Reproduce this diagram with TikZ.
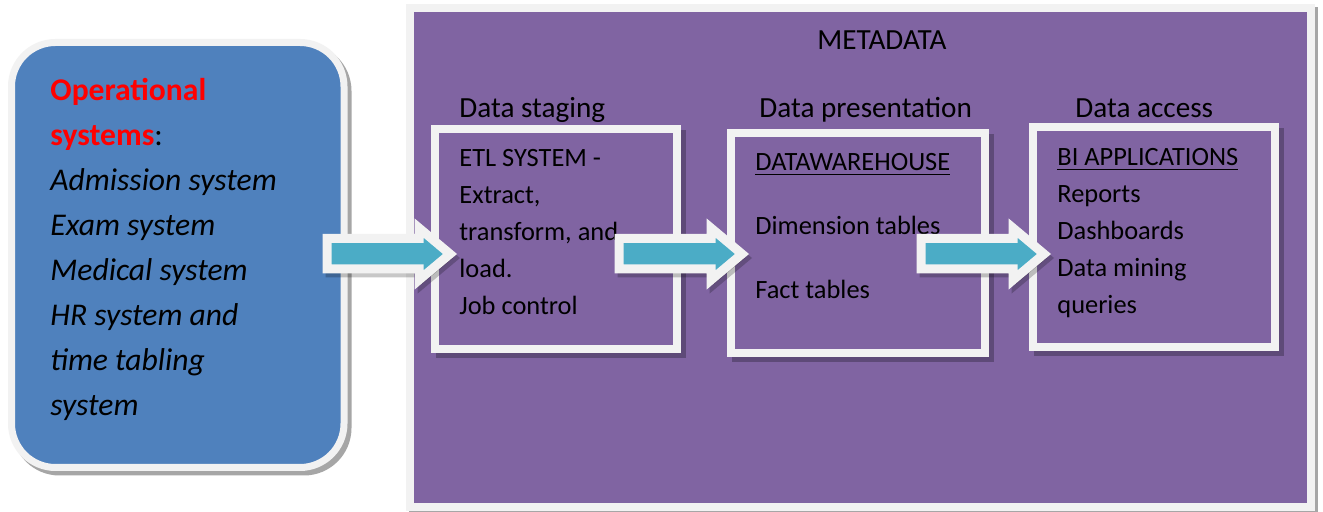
\documentclass[tikz,border=0pt]{standalone}
\usepackage{fontspec}
\setmainfont{Carlito}
\definecolor{mpurple}{HTML}{8064A2}
\definecolor{mblue}{HTML}{4F81BD}
\definecolor{mteal}{HTML}{4BACC6}
\definecolor{mborder}{HTML}{F2F2F2}
\definecolor{mshadow}{HTML}{5E4A78}
\definecolor{mgray}{HTML}{A6A6A6}
\tikzset{
  container/.style={draw=mborder, line width=4pt, fill=mpurple, inner sep=0pt,
    minimum width=450.75pt, minimum height=249.75pt},
  opsbox/.style={draw=mborder, line width=3.5pt, fill=mblue, inner sep=0pt,
    rounded corners=22pt, minimum width=166.25pt, minimum height=212.5pt},
  stagebox/.style={draw=mborder, line width=4pt, fill=mpurple, inner sep=0pt},
  stageshadow/.style={draw=mshadow, fill=mshadow, line width=4pt, inner sep=0pt},
  headtxt/.style={anchor=base west, inner sep=0pt, font=\fontsize{14.6}{17}\selectfont},
  boxtxt/.style={anchor=base west, inner sep=0pt, font=\fontsize{13.2}{16}\selectfont},
  opstxt/.style={anchor=base west, inner sep=0pt, font=\fontsize{15.8}{19}\selectfont},
  blockarr/.style={draw=mborder, fill=mteal, line width=4.5pt, line join=miter},
  arrshadow/.style={draw=black, fill=black, opacity=0.22, line width=4.5pt, line join=miter},
}
\begin{document}
\begin{tikzpicture}[x=0.5pt,y=-0.5pt]
\useasboundingbox (0,0) rectangle (1323,512);
\fill[white] (0,0) rectangle (1323,512);

% metadata container
\node[container, draw=mgray, fill=mgray] (metash) at (863.25,260.75) {};
\node[container] (meta) at (860.25,257.75) {};

% operational systems box
\node[opsbox, draw=mgray, fill=mgray] (opssh) at (181.75,259.5) {};
\node[opsbox] (ops) at (177.75,255) {};

% stage boxes
\node[stageshadow, minimum width=121pt, minimum height=110pt] (b1sh) at (561,244) {};
\node[stageshadow, minimum width=127pt, minimum height=110pt] (b2sh) at (863,248) {};
\node[stageshadow, minimum width=121pt, minimum height=109.75pt] (b3sh) at (1159,242.25) {};
\node[stagebox, minimum width=121pt, minimum height=110pt] (b1) at (556,239) {};
\node[stagebox, minimum width=127pt, minimum height=110pt] (b2) at (858,243) {};
\node[stagebox, minimum width=121pt, minimum height=109.75pt] (b3) at (1154,237.25) {};

% headings
\node[headtxt] (tmeta) at (817,50) {METADATA};
\node[headtxt] (h1) at (459,118) {Data staging};
\node[headtxt] (h2) at (759,118) {Data presentation};
\node[headtxt] (h3) at (1075,118) {Data access};

% box 1 text
\foreach \t [count=\i] in {ETL SYSTEM -, {Extract,}, {transform, and}, load., Job control}
  \node[boxtxt] (s\i) at (459,{167+37*(\i-1)}) {\t};

% box 2 text
\node[boxtxt] (p1) at (755,171) {\underline{DATAWAREHOUSE}};
\node[boxtxt] (p2) at (755,235) {Dimension tables};
\node[boxtxt] (p3) at (755,299) {Fact tables};

% box 3 text
\node[boxtxt] (q1) at (1057,166) {\underline{BI APPLICATIONS}};
\foreach \t [count=\i from 2] in {Reports, Dashboards, Data mining, queries}
  \node[boxtxt] (q\i) at (1057,{166+37*(\i-1)}) {\t};

% operational text
\node[opstxt] (o1) at (50,101) {\textcolor{red}{\bfseries Operational}};
\node[opstxt] (o2) at (50,146) {\textcolor{red}{\bfseries systems}:};
\foreach \t [count=\i from 3] in {Admission system, Exam system, Medical system, HR system and, time tabling, system}
  \node[opstxt, font=\fontsize{15.8}{19}\selectfont\itshape] (o\i) at (50,{146+45*(\i-2)}) {\t};

% block arrows
\foreach \dx in {0,292,594}{
  \draw[arrshadow, shift={(\dx+3,4)}] (327,238.5) -- (419,238.5) -- (419,228) -- (450,254)
     -- (419,280) -- (419,269) -- (327,269) -- cycle;
  \draw[blockarr, shift={(\dx,0)}] (327,238.5) -- (419,238.5) -- (419,228) -- (450,254)
     -- (419,280) -- (419,269) -- (327,269) -- cycle;
}
\end{tikzpicture}
\end{document}
